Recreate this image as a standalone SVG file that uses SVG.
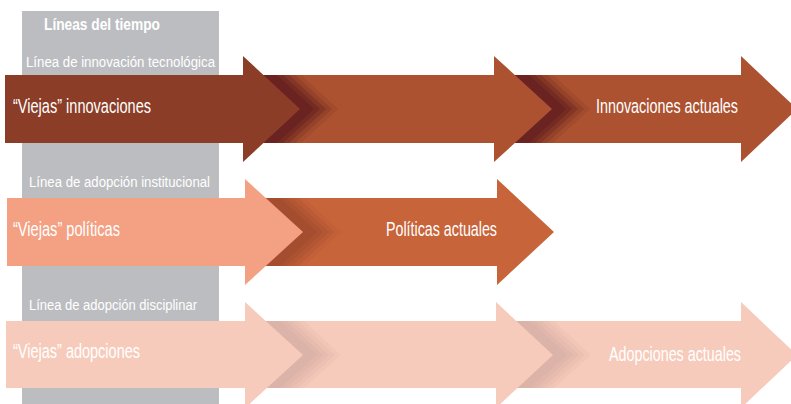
<svg xmlns="http://www.w3.org/2000/svg" width="791" height="404" viewBox="0 0 791 404">
<style>
text{font-family:"Liberation Sans Narrow","Liberation Sans","DejaVu Sans Condensed",Arial,sans-serif;fill:#ffffff}
.t{font-size:20.5px}
.s{font-size:15.5px}
.h{font-size:17px;font-weight:bold}
</style>
<rect width="791" height="404" fill="#ffffff"/>
<g id="panel">
<rect x="22" y="11" width="197" height="393" fill="#bcbdc0"/>
<text class="h" x="44" y="30" textLength="116" lengthAdjust="spacingAndGlyphs">Líneas del tiempo</text>
</g>
<g id="connectors"></g>
<!-- Row 1 -->
<g id="row1-label">
<text class="s" x="26" y="67" textLength="189" lengthAdjust="spacingAndGlyphs">Línea de innovación tecnológica</text>
</g>
<g id="innovaciones-actuales">
<polygon points="500,75 741,75 741,56 797,109 741,162 741,143 500,143" fill="#ad5230"/>
<text class="t" x="596" y="113" textLength="142" lengthAdjust="spacingAndGlyphs">Innovaciones actuales</text>
</g>
<g id="row1-shadow2">
<polygon points="480,75 553,75 590,109 553,143 480,143" fill="#a34b2d"/>
<polygon points="480,75 547,75 584,109 547,143 480,143" fill="#94422a"/>
<polygon points="480,75 541,75 578,109 541,143 480,143" fill="#843626"/>
<polygon points="480,75 535,75 572,109 535,143 480,143" fill="#742b22"/>
<polygon points="480,75 529,75 566,109 529,143 480,143" fill="#6a2320"/>
</g>
<g id="row1-middle">
<polygon points="250,75 494,75 494,56 552,109 494,162 494,143 250,143" fill="#ad5230"/>
</g>
<g id="row1-shadow1">
<polygon points="230,75 301,75 338,109 301,143 230,143" fill="#a34b2d"/>
<polygon points="230,75 295,75 332,109 295,143 230,143" fill="#94422a"/>
<polygon points="230,75 289,75 326,109 289,143 230,143" fill="#843626"/>
<polygon points="230,75 283,75 320,109 283,143 230,143" fill="#742b22"/>
<polygon points="230,75 277,75 314,109 277,143 230,143" fill="#6a2320"/>
</g>
<g id="viejas-innovaciones">
<polygon points="5,75 243,75 243,56 300,109 243,162 243,143 5,143" fill="#8b3d27"/>
<text class="t" x="13" y="113" textLength="138" lengthAdjust="spacingAndGlyphs">“Viejas” innovaciones</text>
</g>
<!-- Row 2 -->
<g id="row2-label">
<text class="s" x="29" y="187" textLength="181" lengthAdjust="spacingAndGlyphs">Línea de adopción institucional</text>
</g>
<g id="politicas-actuales">
<polygon points="250,198 497,198 497,179 554,232 497,285 497,266 250,266" fill="#c8643a"/>
<text class="t" x="386" y="236" textLength="111" lengthAdjust="spacingAndGlyphs">Políticas actuales</text>
</g>
<g id="row2-shadow">
<polygon points="230,198 304,198 341,232 304,266 230,266" fill="#c2603a"/>
<polygon points="230,198 298,198 335,232 298,266 230,266" fill="#ba5b36"/>
<polygon points="230,198 292,198 329,232 292,266 230,266" fill="#b25633"/>
<polygon points="230,198 286,198 323,232 286,266 230,266" fill="#aa5231"/>
<polygon points="230,198 280,198 317,232 280,266 230,266" fill="#a44e2f"/>
</g>
<g id="viejas-politicas">
<polygon points="7,198 245,198 245,179 303,232 245,285 245,266 7,266" fill="#f4a083"/>
<text class="t" x="13" y="236" textLength="107" lengthAdjust="spacingAndGlyphs">“Viejas” políticas</text>
</g>
<!-- Row 3 -->
<g id="row3-label">
<text class="s" x="29" y="310" textLength="168" lengthAdjust="spacingAndGlyphs">Línea de adopción disciplinar</text>
</g>
<g id="adopciones-actuales">
<polygon points="500,321 741,321 741,302 797,355 741,408 741,388 500,388" fill="#f7cbbb"/>
<text class="t" x="609" y="361" textLength="132" lengthAdjust="spacingAndGlyphs">Adopciones actuales</text>
</g>
<g id="row3-shadow2">
<polygon points="480,321 554,321 591,355 554,388 480,388" fill="#f2c6b7"/>
<polygon points="480,321 548,321 585,355 548,388 480,388" fill="#ecc1b3"/>
<polygon points="480,321 542,321 579,355 542,388 480,388" fill="#e6bcaf"/>
<polygon points="480,321 536,321 573,355 536,388 480,388" fill="#e1b7ab"/>
<polygon points="480,321 530,321 567,355 530,388 480,388" fill="#dcb3a8"/>
</g>
<g id="row3-middle">
<polygon points="250,321 496,321 496,302 553,355 496,408 496,388 250,388" fill="#f7cbbb"/>
</g>
<g id="row3-shadow1">
<polygon points="230,321 304,321 341,355 304,388 230,388" fill="#f2c6b7"/>
<polygon points="230,321 298,321 335,355 298,388 230,388" fill="#ecc1b3"/>
<polygon points="230,321 292,321 329,355 292,388 230,388" fill="#e6bcaf"/>
<polygon points="230,321 286,321 323,355 286,388 230,388" fill="#e1b7ab"/>
<polygon points="230,321 280,321 317,355 280,388 230,388" fill="#dcb3a8"/>
</g>
<g id="viejas-adopciones">
<polygon points="6,321 245,321 245,302 303,355 245,408 245,388 6,388" fill="#f7cbbb"/>
<text class="t" x="13" y="358" textLength="127" lengthAdjust="spacingAndGlyphs">“Viejas” adopciones</text>
</g>
</svg>
